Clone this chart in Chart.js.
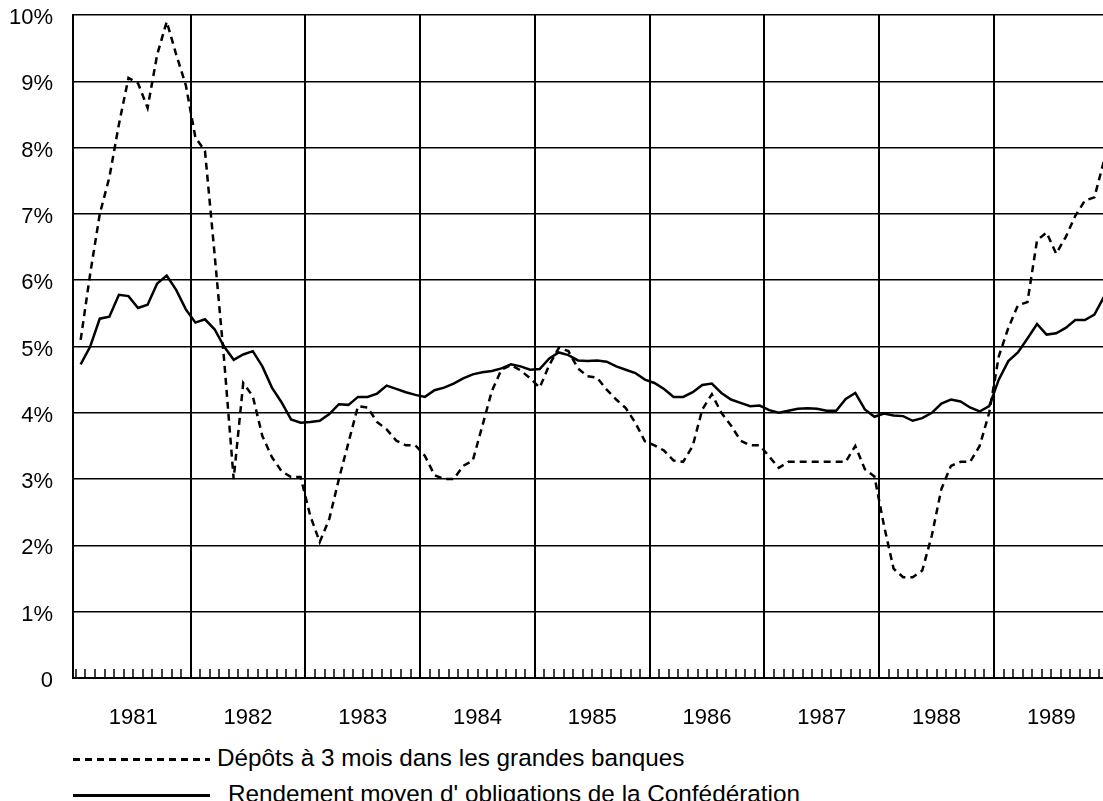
<!DOCTYPE html>
<html>
<head>
<meta charset="utf-8">
<script src="https://cdn.jsdelivr.net/npm/chart.js@4.4.1/dist/chart.umd.min.js"></script>
<style>
  body { margin: 0; background: #fff; font-family: "Liberation Sans", Arial, sans-serif; }
  #wrap { position: relative; width: 1103px; height: 801px; overflow: hidden; background: #fff; }
  #box { position: absolute; left: 0; top: 0; width: 1103px; height: 740px; }
  .sample { position: absolute; left: 73px; width: 137px; height: 2.5px; }
  .leg { position: absolute; font-size: 24.3px; line-height: 24px; color: #000; white-space: nowrap; }
</style>
</head>
<body>
<div id="wrap">
  <div id="box"><canvas id="chart"></canvas></div>
  <div class="sample" style="top:758px; background: repeating-linear-gradient(to right, #000 0 7px, transparent 7px 12px);"></div>
  <div class="leg" id="leg1" style="left:217px; top:746px;"></div>
  <div class="sample" style="top:794px; background:#000;"></div>
  <div class="leg" id="leg2" style="left:228px; top:782px;"></div>
</div>
<script>
// series labels
const depotsLabel = "Dépôts à 3 mois dans les grandes banques";
const obligationsLabel = "Rendement moyen d' obligations de la Confédération";

// year labels on the x axis (one per 12 months, from Jan 1981)
const yearLabels = ["1981", "1982", "1983", "1984", "1985", "1986", "1987", "1988", "1989"];

// monthly values in %, Jan 1981 .. Dec 1989
const depots = [
  5.1, 6.1, 7.0, 7.55, 8.35, 9.05, 8.97, 8.6, 9.4, 9.9, 9.4, 8.94,
  8.15, 7.95, 6.4, 4.8, 3.0, 4.45, 4.25, 3.65, 3.33, 3.12, 3.03, 3.03,
  2.45, 2.05, 2.4, 3.0, 3.55, 4.1, 4.08, 3.86, 3.75, 3.58, 3.51, 3.51,
  3.35, 3.06, 3.0, 3.0, 3.2, 3.28, 3.8, 4.33, 4.65, 4.72, 4.64, 4.52,
  4.38, 4.72, 4.98, 4.93, 4.67, 4.55, 4.53, 4.35, 4.2, 4.07, 3.85, 3.57,
  3.51, 3.43, 3.28, 3.26, 3.5, 4.05, 4.28, 4.0, 3.81, 3.58, 3.51, 3.51,
  3.34, 3.17, 3.26, 3.26, 3.26, 3.26, 3.26, 3.26, 3.26, 3.5, 3.15, 3.04,
  2.3, 1.65, 1.52, 1.52, 1.62, 2.15, 2.85, 3.2, 3.26, 3.26, 3.5, 4.0,
  4.85, 5.28, 5.62, 5.67, 6.6, 6.72, 6.4, 6.65, 6.97, 7.2, 7.25, 7.8
];
const obligations = [
  4.73, 5.0, 5.42, 5.45, 5.78, 5.76, 5.58, 5.63, 5.95, 6.07, 5.85, 5.56,
  5.36, 5.41, 5.26, 5.0, 4.8, 4.88, 4.93, 4.7, 4.38, 4.16, 3.9, 3.85,
  3.86, 3.88, 3.98, 4.13, 4.12, 4.24, 4.24, 4.29, 4.41, 4.36, 4.31, 4.27,
  4.24, 4.34, 4.38, 4.44, 4.52, 4.58, 4.61, 4.63, 4.67, 4.73, 4.7, 4.65,
  4.66, 4.82, 4.91, 4.87, 4.79, 4.78, 4.79, 4.77, 4.7, 4.65, 4.6, 4.5,
  4.45, 4.36, 4.24, 4.24, 4.31, 4.42, 4.44, 4.3, 4.2, 4.15, 4.1, 4.11,
  4.04, 4.0, 4.03, 4.06, 4.07, 4.06, 4.03, 4.03, 4.21, 4.3, 4.05, 3.94,
  3.99, 3.96, 3.95, 3.88, 3.92, 4.0, 4.14, 4.2, 4.17, 4.08, 4.02, 4.1,
  4.5, 4.78, 4.91, 5.12, 5.34, 5.18, 5.2, 5.28, 5.4, 5.4, 5.48, 5.75
];

document.getElementById("leg1").textContent = depotsLabel;
document.getElementById("leg2").textContent = obligationsLabel;

Chart.defaults.font.family = '"Liberation Sans", Arial, sans-serif';
Chart.defaults.color = "#000";

// each value sits in the middle of its month
const toPoints = (arr) => arr.map((v, i) => ({ x: i + 0.5, y: v }));

// no extra room for tick labels, the plot goes to the edges
const noPadding = (axis) => {
  axis.paddingTop = 0;
  axis.paddingBottom = 0;
  axis.paddingLeft = 0;
  axis.paddingRight = 0;
};

new Chart(document.getElementById("chart"), {
  type: "line",
  data: {
    datasets: [
      {
        label: depotsLabel,
        data: toPoints(depots),
        borderColor: "#000",
        borderWidth: 2.5,
        borderDash: [7, 5],
        pointRadius: 0,
        tension: 0,
      },
      {
        label: obligationsLabel,
        data: toPoints(obligations),
        borderColor: "#000",
        borderWidth: 2.5,
        pointRadius: 0,
        tension: 0,
      },
    ],
  },
  options: {
    responsive: true,
    maintainAspectRatio: false,
    animation: false,
    layout: { padding: { top: 15, right: 0, bottom: 0, left: 0 } },
    plugins: { legend: { display: false }, tooltip: { enabled: false } },
    scales: {
      x: {
        type: "linear",
        min: -0.3,
        max: 107.4,
        afterBuildTicks: (axis) => {
          const t = [];
          for (let m = 0; m <= 107; m++) t.push({ value: m });
          axis.ticks = t;
        },
        afterFit: (axis) => {
          axis.height = 62;
          noPadding(axis);
        },
        grid: {
          color: (c) => (c.tick && c.tick.value > 0 && c.tick.value % 12 === 0 ? "#000" : "rgba(0,0,0,0)"),
          lineWidth: 2,
          tickLength: -9,
          tickColor: "#000",
          tickWidth: 1.5,
        },
        border: { color: "#000", width: 2 },
        ticks: {
          autoSkip: false,
          maxRotation: 0,
          padding: 36,
          font: { size: 22 },
          callback: (v) => (v % 12 === 6 ? yearLabels[(v - 6) / 12] : ""),
        },
      },
      y: {
        min: 0,
        max: 10,
        afterFit: (axis) => {
          axis.width = 73;
          noPadding(axis);
        },
        grid: { color: "#000", lineWidth: 1.5, drawTicks: false },
        border: { color: "#000", width: 2 },
        ticks: {
          stepSize: 1,
          padding: 20,
          labelOffset: 3,
          font: { size: 22 },
          callback: (v) => (v === 0 ? "0" : v + "%"),
        },
      },
    },
  },
});
</script>
</body>
</html>
